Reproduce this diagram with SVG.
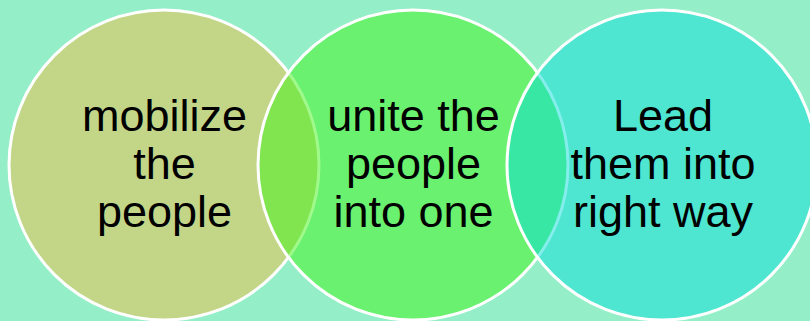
<svg xmlns="http://www.w3.org/2000/svg" width="810" height="321" viewBox="0 0 810 321">
<style>
.c{stroke:#FFFFFF;stroke-width:3}
.t{font-family:"Liberation Sans",Arial,sans-serif;font-size:45px;fill:#000000;text-anchor:middle}
</style>
<rect x="0" y="0" width="810" height="321" fill="#94EEC8"/>
<g id="node-mobilize">
<circle class="c" cx="164" cy="165" r="155" fill="#C3D688"/>
</g>
<g id="node-unite">
<circle class="c" cx="413" cy="165" r="155" fill="rgb(63,244,24)" fill-opacity="0.5"/>
</g>
<g id="node-lead">
<circle class="c" cx="662" cy="165" r="155" fill="rgb(7,222,216)" fill-opacity="0.5"/>
</g>
<g id="labels">
<text class="t" x="164.5" y="131">mobilize</text>
<text class="t" x="164.5" y="179">the</text>
<text class="t" x="164.5" y="227">people</text>
<text class="t" x="413.5" y="131">unite the</text>
<text class="t" x="413.5" y="179">people</text>
<text class="t" x="413.5" y="227">into one</text>
<text class="t" x="663" y="131">Lead</text>
<text class="t" x="663" y="179">them into</text>
<text class="t" x="663" y="227">right way</text>
</g>
</svg>
